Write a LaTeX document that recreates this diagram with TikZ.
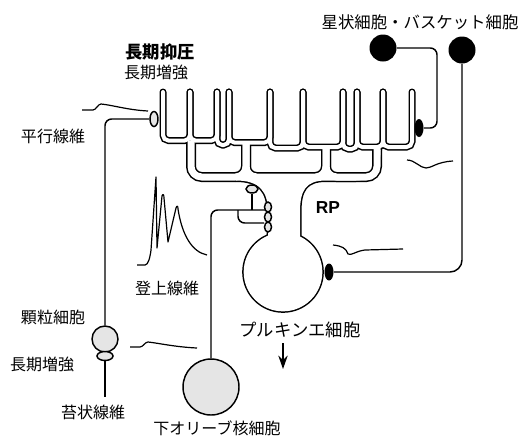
\documentclass[tikz,border=0pt]{standalone}
\usepackage{fontspec}
\setsansfont{Liberation Sans}
\newfontfamily\cjk{Noto Sans CJK JP}
\usetikzlibrary{arrows.meta,shapes.geometric}

\definecolor{cellgray}{gray}{0.9}

\tikzset{
  fibre/.style={line width=1.1pt},
  trace/.style={line width=0.9pt, line join=round},
  graycell/.style={circle, draw, line width=1.1pt, fill=cellgray, inner sep=0pt},
  darkcell/.style={circle, fill=black, inner sep=0pt},
  graysyn/.style={ellipse, draw, line width=1.1pt, fill=cellgray, inner sep=0pt},
  darksyn/.style={ellipse, fill=black, inner sep=0pt},
  lab/.style={font=\cjk\fontsize{12}{14}\selectfont, inner sep=0pt},
  biglab/.style={font=\cjk\fontsize{13}{15}\selectfont, inner sep=0pt},
}

% spines in pairs, then the stems and the lower bar
\newcommand{\dendrites}[2]{%
  \foreach \xa/\xb/\yb in {163/190/140.5, 190/217/140.5, 217/229/145,
      229/270/142.5, 270/303/148, 303/343/147, 343/357/149, 357/383/147, 383/412/147}
    \draw[line width=#1, line cap=round, rounded corners=4pt]
      (\xa,92) -- (\xa,\yb) -- (\xb,\yb) -- (\xb,92);
  \foreach \xa/\xb/\ya/\yb in {191/246/140.5/142.5, 246/326/142.5/147, 326/377/147/147}
    \draw[line width=#2, rounded corners=8pt]
      (\xa,\ya) -- (\xa,177) -- (\xb,177) -- (\xb,\yb);
}
% main dendrite, widening down to the soma
\newcommand{\trunk}[1]{%
  \path[#1] (236,175) -- (236,180.5) .. controls (260,180.5) and (268,192) .. (268,212)
    -- (268,250) -- (300,250) -- (300,212) .. controls (300,190) and (306,180.5) .. (326,180.5)
    -- (356,180.5) .. controls (372,180.5) and (380.5,168) .. (380.5,150)
    -- (375,148) -- (375,175) -- cycle;
}

\begin{document}
\begin{tikzpicture}[x=0.75pt, y=-0.75pt]
\useasboundingbox (0,0) rectangle (520,436);

% Purkinje cell: outline pass, then the white inside
\begin{scope}[black]
  \dendrites{5.25pt}{7.5pt}
  \trunk{draw, line width=2.25pt}
  \draw[line width=2.25pt] (283,272) circle (29.5pt);
\end{scope}
\begin{scope}[white]
  \dendrites{3pt}{5.25pt}
  \trunk{fill}
  \fill (283,272) circle (29.5pt);
\end{scope}

% cells and synapses
\node[graycell, minimum size=19.5pt] (gran) at (105,339) {};
\node[graysyn, minimum width=12pt, minimum height=6.75pt] (mfsyn) at (105,356) {};
\node[graysyn, minimum width=6pt, minimum height=11.25pt] (pfsyn) at (154,119) {};
\node[graycell, minimum size=42pt] (io) at (211,387) {};
\node[darkcell, minimum size=20.25pt] (stel) at (383,48) {};
\node[darkcell, minimum size=20.25pt] (bask) at (462,50) {};
\node[darksyn, minimum width=6.75pt, minimum height=13.5pt] (stsyn) at (419,128) {};
\node[darksyn, minimum width=6.75pt, minimum height=12.75pt] (bksyn) at (329,272) {};
\node[graysyn, minimum width=9pt, minimum height=6pt] (cftop) at (252,189) {};
\foreach \i/\y in {1/207, 2/217, 3/227}
  \node[graysyn, minimum width=5.25pt, minimum height=7.5pt] (cf\i) at (268,\y) {};

\coordinate (mfend) at (105,397);
\coordinate (cfend) at (265,210);
\coordinate (cfbr) at (238,210);
\coordinate (cflow) at (264,223);
\coordinate (stcorner) at (437,128);
\coordinate (outtop) at (283,343);
\coordinate (outbot) at (283,369);

% fibres
\draw[fibre, rounded corners=5pt] (gran.north) |- (pfsyn.west);
\draw[fibre] (mfsyn.south) -- (mfend);
\draw[fibre, rounded corners=5pt] (io.north) |- (cfend);
\draw[fibre] (cftop.south) -- (cftop.south |- cfend);
\draw[fibre, rounded corners=5pt] (cfbr) |- (cflow);
\draw[fibre, rounded corners=5pt] (stel.east) -| (stcorner) -- (stsyn.east);
\draw[fibre, rounded corners=9pt] (bask.south) |- (bksyn.east);
\draw[line width=1.4pt, -{Stealth[length=10pt, width=7pt]}] (outtop) -- (outbot);

% responses
\draw[trace] (82,110) -- (93,110) .. controls (96,110) and (98,104) .. (101,104)
  .. controls (112,105) and (128,110) .. (148,111);
\draw[trace] (130,347) -- (140,347) .. controls (143,347) and (145,342) .. (148,342)
  .. controls (158,343) and (175,347) .. (197,348);
\draw[trace] (137,265) -- (145,265) .. controls (148,265) and (150,258) .. (151,250)
  -- (156,177) -- (157,248) -- (162,196) .. controls (163,193) and (164,195) .. (164,198)
  -- (168,242) -- (176,208) .. controls (177,205) and (178,206) .. (178,209)
  .. controls (182,235) and (192,252) .. (207,255);
\draw[trace] (407,160) .. controls (415,160) and (420,168) .. (426,168)
  .. controls (432,168) and (436,162) .. (453,161);
\draw[trace] (333,245) .. controls (342,246) and (346,248) .. (348,254)
  .. controls (351,256) and (356,251) .. (365,250) -- (403,249);

% labels
\node[biglab, font=\cjk\bfseries\fontsize{13}{15}\selectfont] (ltd) at (160,52) {長期抑圧};
\node[lab] (ltpa) at (156,72) {長期増強};
\node[lab] (pf) at (53,136) {平行線維};
\node[lab, font=\cjk\fontsize{12.3}{14}\selectfont] (sb) at (420,22) {星状細胞・バスケット細胞};
\node[inner sep=0pt, font=\sffamily\bfseries\fontsize{13}{15}\selectfont] (rp) at (328,208) {RP};
\node[lab] (cf) at (167,288) {登上線維};
\node[lab] (gc) at (53,317) {顆粒細胞};
\node[lab] (ltpb) at (42,364) {長期増強};
\node[lab] (mf) at (93,412) {苔状線維};
\node[biglab] (pc) at (300,330) {プルキンエ細胞};
\node[lab] (ion) at (217,428) {下オリーブ核細胞};
\end{tikzpicture}
\end{document}
